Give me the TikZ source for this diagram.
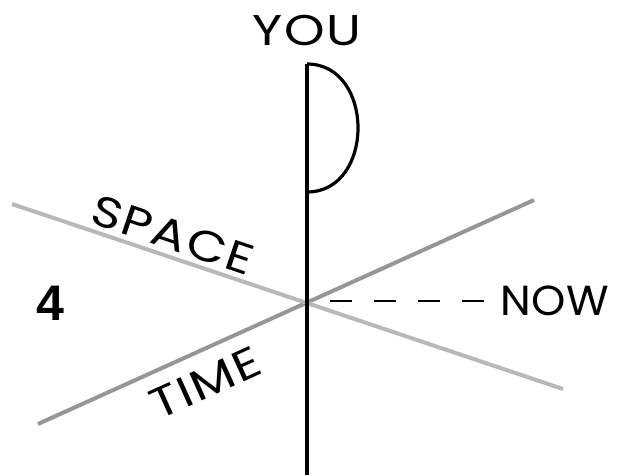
\documentclass[tikz,border=0pt]{standalone}
\usepackage{fontspec}
\usepackage{tikz}
\usetikzlibrary{positioning}
\newfontfamily\labelfont[FakeStretch=1.2, LetterSpace=4]{Poppins}
\newfontfamily\nowfont[FakeStretch=1.04, LetterSpace=1]{Poppins}
\newfontfamily\numfont{Liberation Sans}
\definecolor{SpaceGray}{HTML}{B8B8B8}
\definecolor{TimeGray}{HTML}{969696}

\begin{document}
\begin{tikzpicture}[x=1pt, y=-1pt,
  axis/.style={line width=4pt, black},
  spaceline/.style={line width=4pt, SpaceGray},
  timeline/.style={line width=4pt, TimeGray},
  bump/.style={line width=3.2pt, black},
  nowline/.style={line width=2pt, black, dash pattern=on 22pt off 22pt},
  lbl/.style={font=\labelfont\fontsize{43}{43}\selectfont, inner sep=0pt}]
  \useasboundingbox (0,0) rectangle (618,475);
  % the world lines
  \coordinate (o) at (307,300);
  \coordinate (timeA) at (38,424);
  \coordinate (timeB) at (534,200);
  \coordinate (spaceA) at (12,204);
  \coordinate (spaceB) at (563,389);
  \coordinate (youtop) at (307,64);
  \coordinate (youbot) at (307,475);
  \coordinate (headbot) at (307,192);
  \coordinate (nowstart) at (330,301);
  \coordinate (nowend) at (487,301);
  \draw[timeline] (timeA) -- (timeB);
  \draw[spaceline] (spaceA) -- (spaceB);
  \draw[axis] (youtop) -- (youbot);
  \draw[bump] (youtop) .. controls +(68,0) and +(68,0) .. (headbot);
  \draw[nowline] (nowstart) -- (nowend);
  % labels
  \node[lbl] (you) at (307,30) {YOU};
  \node[lbl, font=\nowfont\fontsize{42}{42}\selectfont, right=13pt of nowend] (now) {NOW};
  \node[lbl, rotate=-18.6] (space) at (173,235) {SPACE};
  \node[lbl, rotate=24.3] (time) at (205,383) {TIME};
  \node[font=\numfont\bfseries\fontsize{50}{50}\selectfont, inner sep=0pt] (num) at (50,303) {4};
\end{tikzpicture}
\end{document}
